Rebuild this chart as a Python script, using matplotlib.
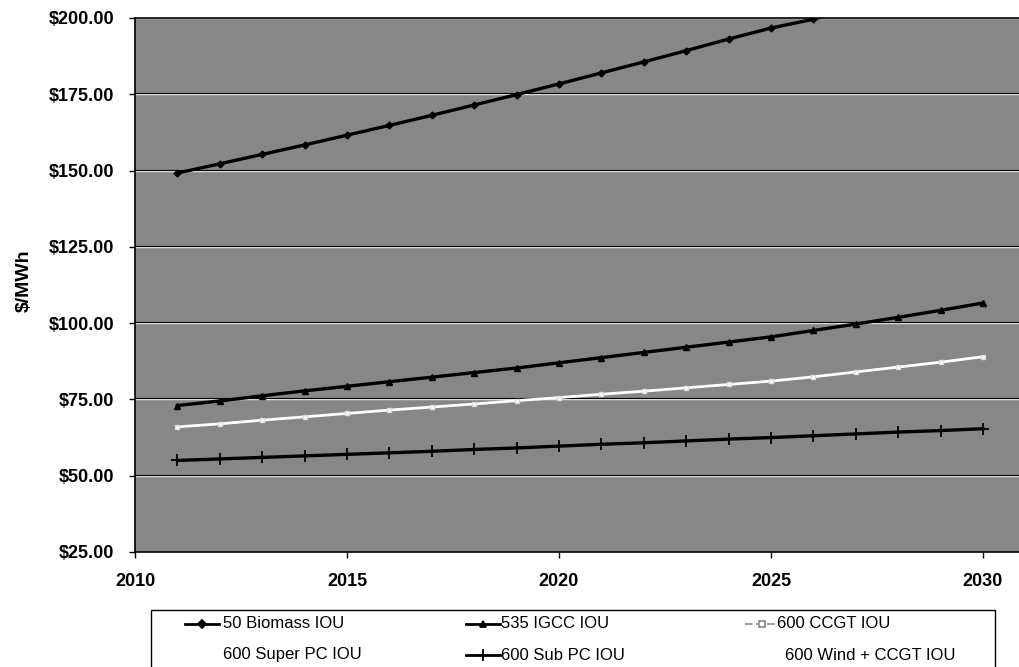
import matplotlib
matplotlib.use("Agg")
import matplotlib.pyplot as plt
from matplotlib.lines import Line2D
from matplotlib.patches import Rectangle

plt.rcParams['font.family'] = ['Liberation Sans', 'DejaVu Sans']

years = list(range(2011, 2031))
biomass = [149.2, 152.2, 155.3, 158.4, 161.6, 164.8, 168.1, 171.5, 174.9, 178.4,
           182.0, 185.6, 189.3, 193.1, 196.7, 199.6, 203.5, 207.5, 211.5, 215.5]
igcc = [73.0, 74.5, 76.2, 77.8, 79.3, 80.8, 82.3, 83.8, 85.3, 87.0,
        88.7, 90.4, 92.1, 93.8, 95.5, 97.6, 99.7, 101.9, 104.2, 106.6]
ccgt = [66.0, 67.0, 68.2, 69.3, 70.4, 71.5, 72.5, 73.5, 74.6, 75.6,
        76.7, 77.7, 78.8, 79.9, 81.0, 82.4, 84.0, 85.6, 87.2, 89.0]
sub_pc = [55.0, 55.5, 56.0, 56.5, 57.0, 57.5, 58.0, 58.6, 59.1, 59.7,
          60.3, 60.8, 61.4, 62.0, 62.5, 63.1, 63.7, 64.3, 64.8, 65.4]

series_names = ["50 Biomass IOU", "535 IGCC IOU", "600 CCGT IOU",
                "600 Super PC IOU", "600 Sub PC IOU", "600 Wind + CCGT IOU"]
yticks = [25, 50, 75, 100, 125, 150, 175, 200]
xticks = [2010, 2015, 2020, 2025, 2030]

W, H = 1019, 667
fig = plt.figure(figsize=(W / 100, H / 100), dpi=100)
ax = fig.add_axes([135 / W, (H - 552) / H, (W - 135) / W, (552 - 18) / H])
ax.set_facecolor('#878787')

for v in yticks[1:]:
    ax.axhline(v, color='white', lw=1.0, zorder=1, alpha=0.8)
    ax.axhline(v + 0.35, color='black', lw=0.8, zorder=1.5)

ax.plot(years, biomass, color='black', lw=2.4, marker='D', ms=3.5, zorder=3)
ax.plot(years, igcc, color='black', lw=2.4, marker='^', ms=4.5, zorder=3)
ax.plot(years, ccgt, color='white', lw=2.0, marker='s', ms=3.5,
        mfc='white', mec='#dddddd', zorder=3)
ax.plot(years, sub_pc, color='black', lw=2.4, marker='+', ms=9, mew=1.3, zorder=3)

ax.set_xlim(2010, 2030.85)
ax.set_ylim(25, 200)
ax.set_xticks(xticks)
ax.set_xticklabels([str(x) for x in xticks])
ax.set_yticks(yticks)
ax.set_yticklabels([f"${v:.2f}" for v in yticks])
ax.tick_params(axis='both', direction='out', length=4, width=1, labelsize=13)
ax.tick_params(axis='y', pad=11)
ax.tick_params(axis='x', pad=11)
for lab in ax.get_xticklabels() + ax.get_yticklabels():
    lab.set_fontweight('bold')
ax.spines['right'].set_visible(False)
for s in ['left', 'bottom', 'top']:
    ax.spines[s].set_color('black')
    ax.spines[s].set_linewidth(1.2)

fig.text(24 / W, 1 - 281 / H, "$/MWh", rotation=90, ha='center', va='center',
         fontsize=14, fontweight='bold')

# legend box (cut off at the bottom, as in the scan)
fig.patches.append(Rectangle((151 / W, -0.05), (995 - 151) / W, 0.05 + (H - 610) / H,
                             transform=fig.transFigure, fill=False, ec='black', lw=1.0))

def fx(px):
    return px / W

def fy(py):
    return 1 - py / H

handles = [
    dict(x=185, y=624, color='black', marker='D', ms=4, mfc='black', mec='black', lw=2.0, ls='-'),
    dict(x=466, y=624, color='black', marker='^', ms=5, mfc='black', mec='black', lw=2.0, ls='-'),
    dict(x=745, y=624, color='#a0a0a0', marker='s', ms=4, mfc='white', mec='#909090', lw=1.5, ls='--'),
    None,
    dict(x=466, y=655, color='black', marker='+', ms=9, mfc='black', mec='black', lw=2.0, ls='-'),
    None,
]
text_pos = [(223, 624), (501, 624), (777, 624), (223, 655), (501, 655), (785, 655)]

for name, h, (tx, ty) in zip(series_names, handles, text_pos):
    if h is not None:
        ln = Line2D([fx(h['x']), fx(h['x'] + 34)], [fy(h['y']), fy(h['y'])],
                    transform=fig.transFigure, color=h['color'], lw=h['lw'], ls=h['ls'])
        mk = Line2D([fx(h['x'] + 17)], [fy(h['y'])], transform=fig.transFigure,
                    marker=h['marker'], ms=h['ms'], mfc=h['mfc'], mec=h['mec'], mew=1.3,
                    ls='none')
        fig.lines.extend([ln, mk])
    fig.text(fx(tx), fy(ty), name, ha='left', va='center', fontsize=12)

fig.savefig("out.png", dpi=100)
